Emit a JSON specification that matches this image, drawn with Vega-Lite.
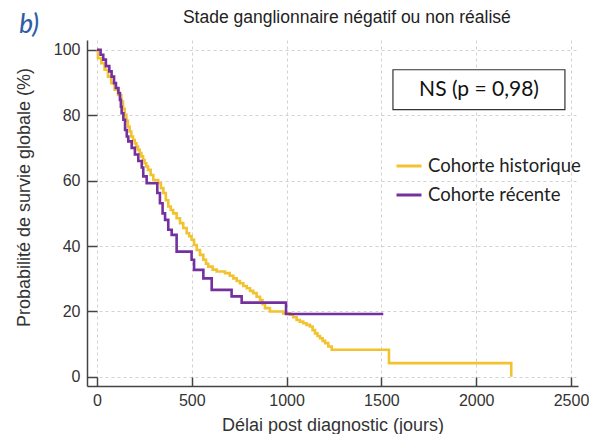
{
  "$schema": "https://vega.github.io/schema/vega-lite/v6.json",
  "width": 491,
  "height": 346,
  "autosize": {"type": "none"},
  "padding": {"left": 87, "top": 40, "right": 11, "bottom": 48},
  "background": "white",
  "config": {
    "view": {"stroke": null},
    "axis": {
      "labelFont": "Liberation Sans",
      "titleFont": "Liberation Sans",
      "labelFontSize": 16,
      "titleFontSize": 18,
      "titleFontWeight": "normal",
      "labelColor": "#333",
      "titleColor": "#333",
      "domainColor": "#444",
      "domainWidth": 1.5,
      "tickColor": "#444",
      "tickWidth": 1.5,
      "gridColor": "#d2d2d2",
      "gridDash": [3, 3],
      "gridWidth": 1
    }
  },
  "layer": [
    {
      "data": {
        "values": [
          {"cohorte": "Cohorte historique", "jours": 0, "survie": 100},
          {"cohorte": "Cohorte historique", "jours": 5, "survie": 97.4},
          {"cohorte": "Cohorte historique", "jours": 23, "survie": 95.9},
          {"cohorte": "Cohorte historique", "jours": 40, "survie": 93.9},
          {"cohorte": "Cohorte historique", "jours": 58, "survie": 91.8},
          {"cohorte": "Cohorte historique", "jours": 75, "survie": 89.8},
          {"cohorte": "Cohorte historique", "jours": 93, "survie": 87.8},
          {"cohorte": "Cohorte historique", "jours": 111, "survie": 86.2},
          {"cohorte": "Cohorte historique", "jours": 128, "survie": 84.2},
          {"cohorte": "Cohorte historique", "jours": 137, "survie": 82},
          {"cohorte": "Cohorte historique", "jours": 146, "survie": 80.1},
          {"cohorte": "Cohorte historique", "jours": 155, "survie": 78.3},
          {"cohorte": "Cohorte historique", "jours": 163, "survie": 76.5},
          {"cohorte": "Cohorte historique", "jours": 172, "survie": 75},
          {"cohorte": "Cohorte historique", "jours": 181, "survie": 73.5},
          {"cohorte": "Cohorte historique", "jours": 190, "survie": 72.4},
          {"cohorte": "Cohorte historique", "jours": 199, "survie": 71.4},
          {"cohorte": "Cohorte historique", "jours": 208, "survie": 70.4},
          {"cohorte": "Cohorte historique", "jours": 216, "survie": 69.4},
          {"cohorte": "Cohorte historique", "jours": 225, "survie": 68.4},
          {"cohorte": "Cohorte historique", "jours": 234, "survie": 67.4},
          {"cohorte": "Cohorte historique", "jours": 243, "survie": 66.3},
          {"cohorte": "Cohorte historique", "jours": 251, "survie": 65.3},
          {"cohorte": "Cohorte historique", "jours": 260, "survie": 64.3},
          {"cohorte": "Cohorte historique", "jours": 269, "survie": 63.3},
          {"cohorte": "Cohorte historique", "jours": 283, "survie": 61.7},
          {"cohorte": "Cohorte historique", "jours": 297, "survie": 60.2},
          {"cohorte": "Cohorte historique", "jours": 323, "survie": 59.2},
          {"cohorte": "Cohorte historique", "jours": 337, "survie": 57.7},
          {"cohorte": "Cohorte historique", "jours": 350, "survie": 56.2},
          {"cohorte": "Cohorte historique", "jours": 363, "survie": 54},
          {"cohorte": "Cohorte historique", "jours": 376, "survie": 52.1},
          {"cohorte": "Cohorte historique", "jours": 389, "survie": 51},
          {"cohorte": "Cohorte historique", "jours": 402, "survie": 50},
          {"cohorte": "Cohorte historique", "jours": 420, "survie": 48.5},
          {"cohorte": "Cohorte historique", "jours": 438, "survie": 47},
          {"cohorte": "Cohorte historique", "jours": 455, "survie": 45.5},
          {"cohorte": "Cohorte historique", "jours": 473, "survie": 43.9},
          {"cohorte": "Cohorte historique", "jours": 486, "survie": 43},
          {"cohorte": "Cohorte historique", "jours": 499, "survie": 41.9},
          {"cohorte": "Cohorte historique", "jours": 512, "survie": 40.3},
          {"cohorte": "Cohorte historique", "jours": 526, "survie": 38.8},
          {"cohorte": "Cohorte historique", "jours": 543, "survie": 37.3},
          {"cohorte": "Cohorte historique", "jours": 561, "survie": 35.8},
          {"cohorte": "Cohorte historique", "jours": 575, "survie": 34.6},
          {"cohorte": "Cohorte historique", "jours": 587, "survie": 33.7},
          {"cohorte": "Cohorte historique", "jours": 610, "survie": 32.8},
          {"cohorte": "Cohorte historique", "jours": 631, "survie": 32.2},
          {"cohorte": "Cohorte historique", "jours": 675, "survie": 31.7},
          {"cohorte": "Cohorte historique", "jours": 700, "survie": 30.9},
          {"cohorte": "Cohorte historique", "jours": 719, "survie": 30.1},
          {"cohorte": "Cohorte historique", "jours": 737, "survie": 29.3},
          {"cohorte": "Cohorte historique", "jours": 754, "survie": 28.6},
          {"cohorte": "Cohorte historique", "jours": 772, "survie": 27.8},
          {"cohorte": "Cohorte historique", "jours": 790, "survie": 27.1},
          {"cohorte": "Cohorte historique", "jours": 807, "survie": 26.3},
          {"cohorte": "Cohorte historique", "jours": 824, "survie": 25.6},
          {"cohorte": "Cohorte historique", "jours": 842, "survie": 24.5},
          {"cohorte": "Cohorte historique", "jours": 860, "survie": 23.5},
          {"cohorte": "Cohorte historique", "jours": 873, "survie": 22.2},
          {"cohorte": "Cohorte historique", "jours": 886, "survie": 21},
          {"cohorte": "Cohorte historique", "jours": 912, "survie": 20},
          {"cohorte": "Cohorte historique", "jours": 983, "survie": 19.4},
          {"cohorte": "Cohorte historique", "jours": 1018, "survie": 19},
          {"cohorte": "Cohorte historique", "jours": 1035, "survie": 18.2},
          {"cohorte": "Cohorte historique", "jours": 1053, "survie": 17.4},
          {"cohorte": "Cohorte historique", "jours": 1070, "survie": 16.9},
          {"cohorte": "Cohorte historique", "jours": 1088, "survie": 16.4},
          {"cohorte": "Cohorte historique", "jours": 1105, "survie": 15.9},
          {"cohorte": "Cohorte historique", "jours": 1123, "survie": 15.4},
          {"cohorte": "Cohorte historique", "jours": 1137, "survie": 14.3},
          {"cohorte": "Cohorte historique", "jours": 1150, "survie": 13.3},
          {"cohorte": "Cohorte historique", "jours": 1163, "survie": 12.5},
          {"cohorte": "Cohorte historique", "jours": 1176, "survie": 11.8},
          {"cohorte": "Cohorte historique", "jours": 1190, "survie": 11},
          {"cohorte": "Cohorte historique", "jours": 1203, "survie": 10.3},
          {"cohorte": "Cohorte historique", "jours": 1220, "survie": 9.3},
          {"cohorte": "Cohorte historique", "jours": 1238, "survie": 8.3},
          {"cohorte": "Cohorte historique", "jours": 1540, "survie": 4.2},
          {"cohorte": "Cohorte historique", "jours": 2185, "survie": 0},
          {"cohorte": "Cohorte récente", "jours": 0, "survie": 100},
          {"cohorte": "Cohorte récente", "jours": 19, "survie": 98.5},
          {"cohorte": "Cohorte récente", "jours": 33, "survie": 97},
          {"cohorte": "Cohorte récente", "jours": 47, "survie": 95},
          {"cohorte": "Cohorte récente", "jours": 65, "survie": 93.4},
          {"cohorte": "Cohorte récente", "jours": 77, "survie": 91.8},
          {"cohorte": "Cohorte récente", "jours": 90, "survie": 89.8},
          {"cohorte": "Cohorte récente", "jours": 100, "survie": 88.3},
          {"cohorte": "Cohorte récente", "jours": 113, "survie": 86.8},
          {"cohorte": "Cohorte récente", "jours": 121, "survie": 84.7},
          {"cohorte": "Cohorte récente", "jours": 126, "survie": 82.6},
          {"cohorte": "Cohorte récente", "jours": 130, "survie": 80.6},
          {"cohorte": "Cohorte récente", "jours": 139, "survie": 78.6},
          {"cohorte": "Cohorte récente", "jours": 148, "survie": 75.5},
          {"cohorte": "Cohorte récente", "jours": 157, "survie": 73.5},
          {"cohorte": "Cohorte récente", "jours": 165, "survie": 72},
          {"cohorte": "Cohorte récente", "jours": 183, "survie": 70},
          {"cohorte": "Cohorte récente", "jours": 200, "survie": 68},
          {"cohorte": "Cohorte récente", "jours": 218, "survie": 66},
          {"cohorte": "Cohorte récente", "jours": 236, "survie": 64},
          {"cohorte": "Cohorte récente", "jours": 244, "survie": 61.3},
          {"cohorte": "Cohorte récente", "jours": 262, "survie": 59.2},
          {"cohorte": "Cohorte récente", "jours": 318, "survie": 56.2},
          {"cohorte": "Cohorte récente", "jours": 332, "survie": 53.1},
          {"cohorte": "Cohorte récente", "jours": 346, "survie": 50},
          {"cohorte": "Cohorte récente", "jours": 359, "survie": 48},
          {"cohorte": "Cohorte récente", "jours": 376, "survie": 45},
          {"cohorte": "Cohorte récente", "jours": 394, "survie": 43.4},
          {"cohorte": "Cohorte récente", "jours": 420, "survie": 38.3},
          {"cohorte": "Cohorte récente", "jours": 499, "survie": 35.8},
          {"cohorte": "Cohorte récente", "jours": 512, "survie": 32.7},
          {"cohorte": "Cohorte récente", "jours": 561, "survie": 30.1},
          {"cohorte": "Cohorte récente", "jours": 605, "survie": 26.6},
          {"cohorte": "Cohorte récente", "jours": 710, "survie": 24.6},
          {"cohorte": "Cohorte récente", "jours": 763, "survie": 22.7},
          {"cohorte": "Cohorte récente", "jours": 997, "survie": 19.2},
          {"cohorte": "Cohorte récente", "jours": 1510, "survie": 19.2}
        ]
      },
      "mark": {"type": "line", "interpolate": "step-after", "strokeWidth": 2.6},
      "encoding": {
        "x": {
          "field": "jours",
          "type": "quantitative",
          "scale": {"domain": [-52.7, 2537], "nice": false, "zero": false},
          "axis": {
            "title": "Délai post diagnostic (jours)",
            "values": [0, 500, 1000, 1500, 2000, 2500],
            "format": "d",
            "tickSize": -9,
            "labelPadding": 15,
            "titlePadding": 8,
            "grid": true
          }
        },
        "y": {
          "field": "survie",
          "type": "quantitative",
          "scale": {"domain": [-2.8, 103], "nice": false, "zero": false},
          "axis": {
            "title": "Probabilité de survie globale (%)",
            "values": [0, 10, 20, 30, 40, 50, 60, 70, 80, 90, 100],
            "labelExpr": "datum.value % 20 === 0 ? datum.label : ''",
            "tickSize": {"condition": {"test": "datum.value % 20 === 0", "value": -10}, "value": -5},
            "gridOpacity": {"condition": {"test": "datum.value % 20 === 0", "value": 1}, "value": 0},
            "labelPadding": 17,
            "titlePadding": 20,
            "titleY": 157,
            "grid": true
          }
        },
        "color": {
          "field": "cohorte",
          "type": "nominal",
          "scale": {"domain": ["Cohorte historique", "Cohorte récente"], "range": ["#F2C230", "#7530A0"]},
          "legend": {
            "title": null,
            "orient": "none",
            "legendX": 308,
            "legendY": 112,
            "padding": 0,
            "symbolType": "stroke",
            "symbolSize": 625,
            "symbolStrokeWidth": 3,
            "labelFont": "Lato",
            "labelFontSize": 18.5,
            "labelColor": "#222",
            "labelOffset": 5,
            "rowPadding": 5
          }
        }
      }
    },
    {
      "data": {"values": [{}]},
      "mark": {"type": "rect", "fill": "white", "stroke": "#333", "strokeWidth": 1.2},
      "encoding": {
        "x": {"datum": 1561, "type": "quantitative"},
        "x2": {"datum": 2468},
        "y": {"datum": 93.9, "type": "quantitative"},
        "y2": {"datum": 81.7}
      }
    },
    {
      "data": {"values": [{}]},
      "mark": {"type": "text", "text": "NS (p = 0,98)", "font": "Lato", "fontSize": 21, "fontWeight": 400, "fill": "#111", "align": "center", "baseline": "middle"},
      "encoding": {
        "x": {"datum": 2015, "type": "quantitative"},
        "y": {"datum": 87.6, "type": "quantitative"}
      }
    },
    {
      "data": {"values": [{}]},
      "mark": {"type": "text", "text": "b)", "font": "Lato", "fontSize": 26, "fontStyle": "italic", "fontWeight": 500, "fill": "#2E5FA6", "align": "left", "baseline": "middle"},
      "encoding": {
        "x": {"datum": -410, "type": "quantitative"},
        "y": {"datum": 107.6, "type": "quantitative"}
      }
    },
    {
      "data": {"values": [{}]},
      "mark": {"type": "text", "text": "Stade ganglionnaire négatif ou non réalisé", "font": "Liberation Sans", "fontSize": 17.5, "fontWeight": 400, "fill": "#222", "align": "center", "baseline": "middle"},
      "encoding": {
        "x": {"datum": 1318, "type": "quantitative"},
        "y": {"datum": 109.8, "type": "quantitative"}
      }
    }
  ]
}
